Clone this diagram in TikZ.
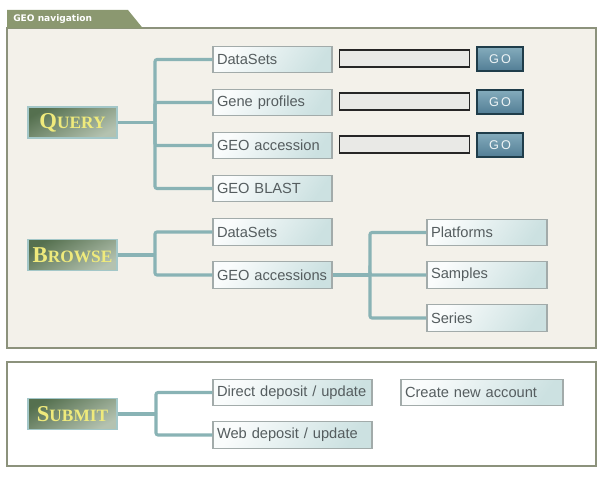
\documentclass[tikz,border=0pt]{standalone}
\usepackage{fontspec}
\newfontfamily\boxfont{Liberation Sans}
\newfontfamily\tabfont{DejaVu Sans}
\newfontfamily\catfont{Liberation Serif}
\hyphenpenalty=10000
\exhyphenpenalty=10000
\definecolor{navfill}{HTML}{F3F1EA}
\definecolor{navline}{HTML}{8C927C}
\definecolor{tabfill}{HTML}{8B9870}
\definecolor{boxline}{HTML}{A2ABAA}
\definecolor{boxtop}{HTML}{FAFCFC}
\definecolor{boxbot}{HTML}{CCE1E1}
\definecolor{boxtext}{HTML}{555D5F}
\definecolor{conn}{HTML}{89B3B5}
\definecolor{catdark}{HTML}{55704F}
\definecolor{catlight}{HTML}{B4C2B0}
\definecolor{catline}{HTML}{A3C7C8}
\definecolor{cattext}{HTML}{EFEA7C}
\definecolor{gotop}{HTML}{84ACBC}
\definecolor{gobot}{HTML}{527D95}
\definecolor{goline}{HTML}{1F3D4A}
\definecolor{infill}{HTML}{E9E9E6}
\newcommand{\fakesc}[2]{{\fontsize{17}{18}\selectfont #1}{\fontsize{13}{14}\selectfont #2}}
\begin{document}
\begin{tikzpicture}[x=0.75pt,y=-0.75pt,
  lbox/.style={draw=boxline, line width=0.9pt, top color=boxtop, bottom color=boxbot, shading angle=55,
    minimum height=20pt, inner xsep=3pt, inner ysep=0pt, align=left, text=boxtext,
    font=\boxfont\fontsize{11}{13}\selectfont},
  catbox/.style={draw=catline, line width=1.1pt, top color=catdark, bottom color=catlight, shading angle=30,
    minimum width=66.75pt, minimum height=23.5pt, inner sep=0pt, text=cattext,
    font=\catfont\bfseries},
  inbox/.style={draw=black!85, line width=0.8pt, fill=infill, minimum width=98pt, minimum height=12.75pt, inner sep=0pt},
  gobtn/.style={draw=goline, line width=1.3pt, top color=gotop, bottom color=gobot,
    minimum width=34.5pt, minimum height=18pt, inner sep=0pt, text=white!85!gotop,
    font=\boxfont\fontsize{9.5}{10}\selectfont},
  connector/.style={draw=conn, line width=2.3pt, rounded corners=1.5pt},
  panel/.style={draw=navline, line width=1.6pt}
]
\useasboundingbox (0,0) rectangle (604,477);

% panels
\fill[white] (0,0) rectangle (604,477);
\draw[panel, fill=navfill] (7,28) rectangle (596,348);
\fill[tabfill] (7,10) -- (128,10) -- (143,28.5) -- (7,28.5) -- cycle;
\node[anchor=west, text=white, font=\tabfont\bfseries\fontsize{6.8}{8}\selectfont, inner sep=0pt] (tab) at (13,19) {GEO navigation};
\draw[panel, fill=white] (7,362) rectangle (596,466);

% category boxes
\node[catbox] (query) at (72.5,122.5) {\fakesc{Q}{UERY}};
\node[catbox] (browse) at (72.5,255) {\fakesc{B}{ROWSE}};
\node[catbox] (submit) at (72.5,414) {\fakesc{S}{UBMIT}};

% query items
\node[lbox, text width=83.25pt] (q1) at (272.5,59.5) {DataSets};
\node[lbox, text width=83.25pt] (q2) at (272.5,102.5) {Gene profiles};
\node[lbox, text width=83.25pt] (q3) at (272.5,145.5) {GEO accession};
\node[lbox, text width=83.25pt] (q4) at (272.5,188.5) {GEO BLAST};

\node[inbox] (i1) at (404.5,58.5) {};
\node[inbox] (i2) at (404.5,101.5) {};
\node[inbox] (i3) at (404.5,144.5) {};
\node[gobtn] (g1) at (500,59) {G\,O};
\node[gobtn] (g2) at (500,102) {G\,O};
\node[gobtn] (g3) at (500,145) {G\,O};

% browse items
\node[lbox, text width=83.25pt] (b1) at (272.5,232) {DataSets};
\node[lbox, text width=83.25pt] (b2) at (272.5,275) {GEO accessions};
\node[lbox, text width=84pt] (p1) at (487,232.5) {Platforms};
\node[lbox, text width=84pt] (p2) at (487,275) {Samples};
\node[lbox, text width=84pt] (p3) at (487,318) {Series};

% submit items
\node[lbox, text width=113.25pt] (s1) at (292.5,392.5) {Direct deposit / update};
\node[lbox, text width=113.25pt] (s2) at (292.5,435) {Web deposit / update};
\node[lbox, text width=115.5pt] (s3) at (482,392.5) {Create new account};

% connectors
\coordinate (qj) at (155,122.5);
\draw[connector] (query.east) -- (qj);
\foreach \n in {q1,q2,q3,q4} \draw[connector] (\n.west) -| (qj);

\coordinate (bj) at (155,255);
\draw[connector] (browse.east) -- (bj);
\foreach \n in {b1,b2} \draw[connector] (\n.west) -| (bj);

\coordinate (pj) at (370,275);
\draw[connector] (b2.east) -- (pj);
\foreach \n in {p1,p2,p3} \draw[connector] (\n.west) -| (pj);

\coordinate (sj) at (156,414);
\draw[connector] (submit.east) -- (sj);
\foreach \n in {s1,s2} \draw[connector] (\n.west) -| (sj);
\end{tikzpicture}
\end{document}
